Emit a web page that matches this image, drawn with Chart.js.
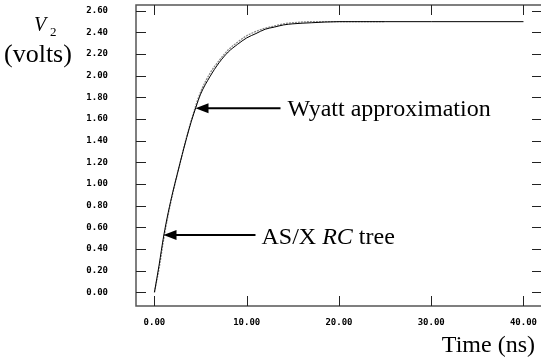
<!DOCTYPE html>
<html>
<head>
<meta charset="utf-8">
<script src="https://cdn.jsdelivr.net/npm/chart.js@4/dist/chart.umd.min.js"></script>
<style>
  html, body { margin: 0; padding: 0; background: #fff; }
  #wrap { width: 541px; height: 358px; }
</style>
</head>
<body>
<div id="wrap"><canvas id="v2Chart" width="541" height="358"></canvas></div>
<script>
// Time samples (ns) and V2 readings (volts)
const wyattTime = [0, 0.5, 1, 1.5, 2, 2.5, 3, 3.5, 4, 4.5, 5, 6, 7, 8, 9, 10, 11, 12, 13, 14, 15, 17, 20, 25, 30, 40];
const wyattVolts = [0, 0.25, 0.52, 0.74, 0.93, 1.10, 1.27, 1.43, 1.58, 1.71, 1.83, 1.99, 2.12, 2.22, 2.29, 2.35, 2.39, 2.43, 2.45, 2.47, 2.48, 2.49, 2.50, 2.50, 2.50, 2.50];

const asxTime = [0, 0.5, 1, 1.5, 2, 2.5, 3, 3.5, 4, 4.5, 5, 6, 7, 8, 9, 10, 11, 12, 13, 14, 15, 17, 20, 25];
const asxVolts = [0, 0.22, 0.49, 0.72, 0.92, 1.10, 1.27, 1.44, 1.59, 1.73, 1.85, 2.02, 2.14, 2.24, 2.31, 2.37, 2.41, 2.44, 2.46, 2.48, 2.49, 2.50, 2.50, 2.50];

const xTicks = [0, 10, 20, 30, 40];
const yTicks = [0, 0.2, 0.4, 0.6, 0.8, 1.0, 1.2, 1.4, 1.6, 1.8, 2.0, 2.2, 2.4, 2.6];

// where the two arrows point (time, volts)
const wyattTip = [4.45, 1.70];
const asxTip = [0.98, 0.53];

const tickFont = { family: 'DejaVu Sans Mono', size: 9, weight: 'bold' };
const serif = '"Liberation Serif", "Times New Roman", serif';

function toPoints(xs, ys) {
  return xs.map((t, i) => ({ x: t, y: ys[i] }));
}

function arrow(ctx, tipX, tipY, tailX) {
  ctx.beginPath();
  ctx.lineWidth = 2;
  ctx.moveTo(tipX + 10, tipY);
  ctx.lineTo(tailX, tipY);
  ctx.stroke();
  ctx.beginPath();
  ctx.moveTo(tipX, tipY);
  ctx.lineTo(tipX + 13, tipY - 5);
  ctx.lineTo(tipX + 13, tipY + 5);
  ctx.closePath();
  ctx.fill();
}

// box, inward tick marks and the text labels
const decorations = {
  id: 'decorations',
  beforeDatasetsDraw(chart) {
    const { ctx, chartArea: a, scales: { x, y } } = chart;
    ctx.save();
    ctx.strokeStyle = '#555';
    ctx.lineWidth = 1.5;
    ctx.beginPath();
    ctx.moveTo(a.right, a.top);
    ctx.lineTo(a.left, a.top);
    ctx.lineTo(a.left, a.bottom);
    ctx.lineTo(a.right, a.bottom);
    ctx.stroke();

    ctx.strokeStyle = '#222';
    ctx.lineWidth = 1;
    ctx.beginPath();
    xTicks.forEach(v => {
      const px = Math.round(x.getPixelForValue(v)) + 0.5;
      ctx.moveTo(px, a.bottom);
      ctx.lineTo(px, a.bottom - 10);
      ctx.moveTo(px, a.top);
      ctx.lineTo(px, a.top + 10);
    });
    yTicks.forEach(v => {
      const py = Math.round(y.getPixelForValue(v)) + 0.5;
      ctx.moveTo(a.left, py);
      ctx.lineTo(a.left + 10, py);
      ctx.moveTo(a.right - 9, py);
      ctx.lineTo(a.right, py);
    });
    ctx.stroke();
    ctx.restore();
  },
  afterDatasetsDraw(chart) {
    const { ctx, scales: { x, y } } = chart;
    ctx.save();
    ctx.fillStyle = '#000';
    ctx.strokeStyle = '#000';

    const wx = x.getPixelForValue(wyattTip[0]);
    const wy = y.getPixelForValue(wyattTip[1]);
    arrow(ctx, wx, wy, wx + 85);
    ctx.font = '24px ' + serif;
    ctx.textBaseline = 'alphabetic';
    ctx.fillText('Wyatt approximation', wx + 92, wy + 8);

    const ax = x.getPixelForValue(asxTip[0]);
    const ay = y.getPixelForValue(asxTip[1]);
    arrow(ctx, ax, ay, ax + 92);
    let tx = ax + 98;
    ctx.font = '24px ' + serif;
    ctx.fillText('AS/X ', tx, ay + 9);
    tx += ctx.measureText('AS/X ').width;
    ctx.font = 'italic 24px ' + serif;
    ctx.fillText('RC', tx, ay + 9);
    tx += ctx.measureText('RC').width;
    ctx.font = '24px ' + serif;
    ctx.fillText(' tree', tx, ay + 9);

    // axis titles
    ctx.font = 'italic 20px ' + serif;
    ctx.fillText('V', 34, 31);
    ctx.font = '13px ' + serif;
    ctx.fillText('2', 50, 36);
    ctx.font = '26px ' + serif;
    ctx.fillText('(volts)', 4, 62);
    ctx.font = '24px ' + serif;
    ctx.textAlign = 'right';
    ctx.fillText('Time (ns)', 535, 352);
    ctx.restore();
  }
};

new Chart(document.getElementById('v2Chart'), {
  type: 'line',
  data: {
    datasets: [
      {
        label: 'Wyatt approximation',
        data: toPoints(wyattTime, wyattVolts),
        borderColor: '#000',
        borderWidth: 1,
        cubicInterpolationMode: 'monotone',
        pointRadius: 0,
        fill: false
      },
      {
        label: 'AS/X RC tree',
        data: toPoints(asxTime, asxVolts),
        borderColor: '#8a8a8a',
        borderWidth: 1.3,
        borderDash: [2, 1],
        cubicInterpolationMode: 'monotone',
        pointRadius: 0,
        fill: false
      }
    ]
  },
  options: {
    responsive: false,
    animation: false,
    layout: { padding: { top: 5, left: 0, right: 0, bottom: 0 } },
    plugins: { legend: { display: false }, tooltip: { enabled: false } },
    scales: {
      x: {
        type: 'linear',
        min: -2,
        max: 41.9,
        grid: { display: false, drawTicks: false },
        border: { display: false },
        afterBuildTicks: s => { s.ticks = xTicks.map(v => ({ value: v })); },
        afterFit: s => { s.height = 52; s.paddingLeft = 0; s.paddingRight = 0; },
        ticks: {
          padding: 11,
          color: '#000',
          font: tickFont,
          maxRotation: 0,
          autoSkip: false,
          callback: v => Number(v).toFixed(2)
        }
      },
      y: {
        type: 'linear',
        min: -0.127,
        max: 2.654,
        grid: { display: false, drawTicks: false },
        border: { display: false },
        afterBuildTicks: s => { s.ticks = yTicks.map(v => ({ value: v })); },
        afterFit: s => { s.width = 136; s.paddingTop = 0; s.paddingBottom = 0; },
        ticks: {
          padding: 28,
          color: '#000',
          font: tickFont,
          autoSkip: false,
          callback: v => Number(v).toFixed(2)
        }
      }
    }
  },
  plugins: [decorations]
});
</script>
</body>
</html>
